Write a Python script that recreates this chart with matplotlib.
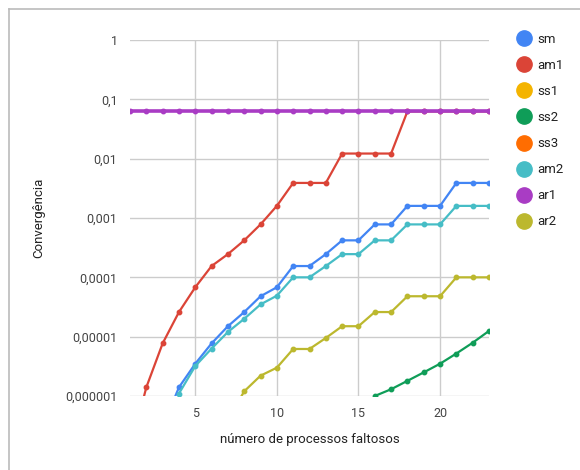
import numpy as np

import matplotlib
matplotlib.use("Agg")
import matplotlib.pyplot as plt
from matplotlib.lines import Line2D
from matplotlib.ticker import FixedLocator, NullLocator


# x axis: number of faulty processes
x = np.arange(1, 24)

# series values (points below 1e-6 are off-chart)
sm = [np.nan, 8e-8, 3e-7, 1.4e-6, 3.5e-6, 7.7e-6, 1.5e-5, 2.6e-5, 4.8e-5, 6.8e-5,
      1.55e-4, 1.55e-4, 2.46e-4, 4.2e-4, 4.2e-4, 7.8e-4, 7.8e-4, 1.6e-3, 1.6e-3, 1.6e-3,
      3.9e-3, 3.9e-3, 3.9e-3]
am1 = [1.2e-7, 1.4e-6, 7.7e-6, 2.6e-5, 6.8e-5, 1.55e-4, 2.46e-4, 4.2e-4, 7.8e-4, 1.6e-3,
       3.9e-3, 3.9e-3, 3.9e-3, 0.0122, 0.0122, 0.0122, 0.0122, 0.0625, 0.0625, 0.0625,
       0.0625, 0.0625, 0.0625]
ss1 = [np.nan] * 23
ss2 = [np.nan] * 13 + [3e-7, 6e-7, 1.0e-6, 1.3e-6, 1.8e-6, 2.5e-6, 3.5e-6,
                        5.2e-6, 7.9e-6, 1.25e-5]
ss3 = [np.nan] * 23
am2 = [np.nan, 6e-8, 2.5e-7, 1.1e-6, 3.2e-6, 6.3e-6, 1.2e-5, 2.0e-5, 3.5e-5, 4.9e-5,
       1.0e-4, 1.0e-4, 1.55e-4, 2.46e-4, 2.46e-4, 4.2e-4, 4.2e-4, 7.8e-4, 7.8e-4, 7.8e-4,
       1.6e-3, 1.6e-3, 1.6e-3]
ar1 = [0.0625] * 23
ar2 = [np.nan] * 5 + [1e-7, 4e-7, 1.2e-6, 2.2e-6, 3.0e-6, 6.2e-6, 6.2e-6, 9.5e-6,
                      1.5e-5, 1.5e-5, 2.6e-5, 2.6e-5, 4.8e-5, 4.8e-5, 4.8e-5,
                      1.0e-4, 1.0e-4, 1.0e-4]

names = ["sm", "am1", "ss1", "ss2", "ss3", "am2", "ar1", "ar2"]
series = [sm, am1, ss1, ss2, ss3, am2, ar1, ar2]
colors = ["#4285f4", "#db4437", "#f4b400", "#0f9d58", "#ff6d01", "#46bdc6", "#a93cc4", "#bcb82e"]

y_ticks = [1e-6, 1e-5, 1e-4, 1e-3, 1e-2, 1e-1, 1]
y_labels = ["0,000001", "0,00001", "0,0001", "0,001", "0,01", "0,1", "1"]
x_ticks = [5, 10, 15, 20]

plt.rcParams['font.family'] = ['Roboto', 'DejaVu Sans']

fig = plt.figure(figsize=(5.8, 4.7), dpi=100)
W, H = 580, 470
L, R, T, B = 130, 489, 40, 396
ax = fig.add_axes([L / W, (H - B) / H, (R - L) / W, (B - T) / H])

# draw order: purple last so it sits on top of am1
order = [0, 1, 2, 3, 4, 5, 7, 6]
for i in order:
    lw = 2.6 if names[i] == "ar1" else 1.6
    ax.plot(x, series[i], color=colors[i], lw=lw, marker="o", ms=3.2,
            solid_joinstyle="round", zorder=3)

ax.set_yscale("log")
ax.set_xlim(1, 23)
ax.set_ylim(1e-6, 1)
ax.yaxis.set_major_locator(FixedLocator(y_ticks))
ax.yaxis.set_minor_locator(NullLocator())
ax.set_yticklabels(y_labels)
ax.set_xticks(x_ticks)

ax.grid(True, color="#cccccc", lw=1)
for s in ax.spines.values():
    s.set_visible(False)
ax.tick_params(length=0, labelsize=9, colors="#444444", pad=9)
ax.tick_params(axis="x", pad=8)

ax.set_xlabel("número de processos faltosos", fontsize=9.5, color="#222222")
ax.set_ylabel("Convergência", fontsize=9.5, color="#222222")
ax.xaxis.set_label_coords(0.5, -(440 - B) / (B - T))
ax.xaxis.label.set_va("center")
ax.yaxis.set_label_coords(-(L - 39) / (R - L), 0.5)
ax.yaxis.label.set_va("center")

# legend
handles = [Line2D([], [], ls="none", marker="o", ms=11, color=c) for c in colors]
fig.legend(handles, names, loc="upper left", bbox_to_anchor=(502 / W, 1 - 21 / H),
           frameon=False, fontsize=9.5, labelcolor="#222222", handletextpad=0.3,
           labelspacing=0.99, handlelength=1.5)

# card border (left and top edges)
fig.add_artist(Line2D([9 / W, 9 / W], [0, 1 - 9 / H], color="#bbbbbb", lw=1.2))
fig.add_artist(Line2D([9 / W, 1], [1 - 9 / H, 1 - 9 / H], color="#bbbbbb", lw=1.2))

fig.savefig("out.png", dpi=100)
